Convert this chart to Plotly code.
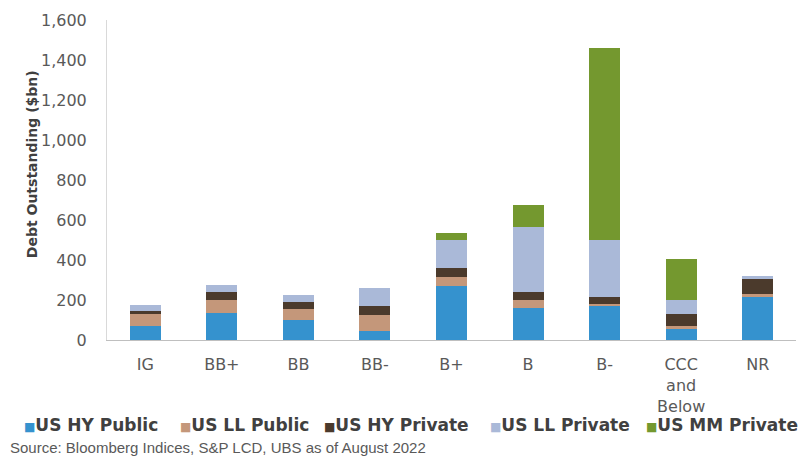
import plotly.graph_objects as go

# Rating buckets along the x axis
categories = ["IG", "BB+", "BB", "BB-", "B+", "B", "B-", "CCC<br>and<br>Below", "NR"]

# Debt outstanding by segment ($bn), stacked bottom to top
us_hy_public = [70, 135, 99, 44, 272, 161, 168, 53, 217]
us_ll_public = [62, 63, 58, 80, 41, 40, 13, 16, 14]
us_hy_private = [12, 41, 32, 44, 49, 38, 33, 63, 74]
us_ll_private = [33, 38, 37, 91, 140, 326, 286, 69, 13]
us_mm_private = [0, 0, 0, 0, 33, 110, 962, 206, 0]

series_names = ["US HY Public", "US LL Public", "US HY Private", "US LL Private", "US MM Private"]
series_values = [us_hy_public, us_ll_public, us_hy_private, us_ll_private, us_mm_private]
series_colors = ["#3592CE", "#C4977A", "#4B3A2C", "#AAB9D8", "#74982F"]

y_ticks = [0, 200, 400, 600, 800, 1000, 1200, 1400, 1600]
y_tick_text = ["0", "200", "400", "600", "800", "1,000", "1,200", "1,400", "1,600"]

FONT = "DejaVu Sans"
GREY = "#595959"

fig = go.Figure()
for name, vals, col in zip(series_names, series_values, series_colors):
    fig.add_trace(go.Bar(x=categories, y=vals, name=name, marker_color=col,
                         marker_line_width=0, showlegend=False))

# Plot area geometry in pixels (used to place the custom legend/labels)
W, H = 807, 462
L, R, T, B = 107, 11, 16, 122
pw = W - L - R
ph = H - T - B


def px_x(p):
    return (p - L) / pw


def px_y(p):
    return (H - B - p) / ph


annotations = []
# Rotated y-axis title
annotations.append(dict(text="<b>Debt Outstanding ($bn)</b>", textangle=-90,
                        x=px_x(22), y=px_y(162), xref="paper", yref="paper",
                        showarrow=False, font=dict(family=FONT, size=14, color="#404040")))

# Legend: colored square followed by bold label
legend_left = [24, 180, 324, 490, 646]
for name, col, lx in zip(series_names, series_colors, legend_left):
    annotations.append(dict(
        text=f'<span style="color:{col};font-size:12px">■</span><b>{name}</b>',
        x=px_x(lx - 2), y=px_y(426), xref="paper", yref="paper",
        xanchor="left", yanchor="middle", showarrow=False,
        font=dict(family=FONT, size=17, color="#404040")))

# Source line
annotations.append(dict(text="Source: Bloomberg Indices, S&P LCD, UBS as of August 2022",
                        x=px_x(8), y=px_y(449), xref="paper", yref="paper",
                        xanchor="left", yanchor="middle", showarrow=False,
                        font=dict(family="Liberation Sans", size=15, color=GREY)))

fig.update_layout(
    barmode="stack",
    bargap=0.595,
    width=W, height=H,
    margin=dict(l=L, r=R, t=T, b=B, pad=0),
    paper_bgcolor="white", plot_bgcolor="white",
    font=dict(family=FONT, color=GREY),
    annotations=annotations,
    showlegend=False,
)
fig.update_xaxes(showline=True, linecolor="#BFBFBF", linewidth=1, showgrid=False,
                 ticks="", tickfont=dict(family=FONT, size=16, color=GREY),
                 ticklabelstandoff=10)
fig.update_yaxes(range=[0, 1600], tickvals=y_ticks, ticktext=y_tick_text,
                 showline=True, linecolor="#D9D9D9", linewidth=1, showgrid=False,
                 zeroline=False, ticks="", tickfont=dict(family=FONT, size=16, color=GREY),
                 ticklabelstandoff=16)

fig.write_html("out.html")
